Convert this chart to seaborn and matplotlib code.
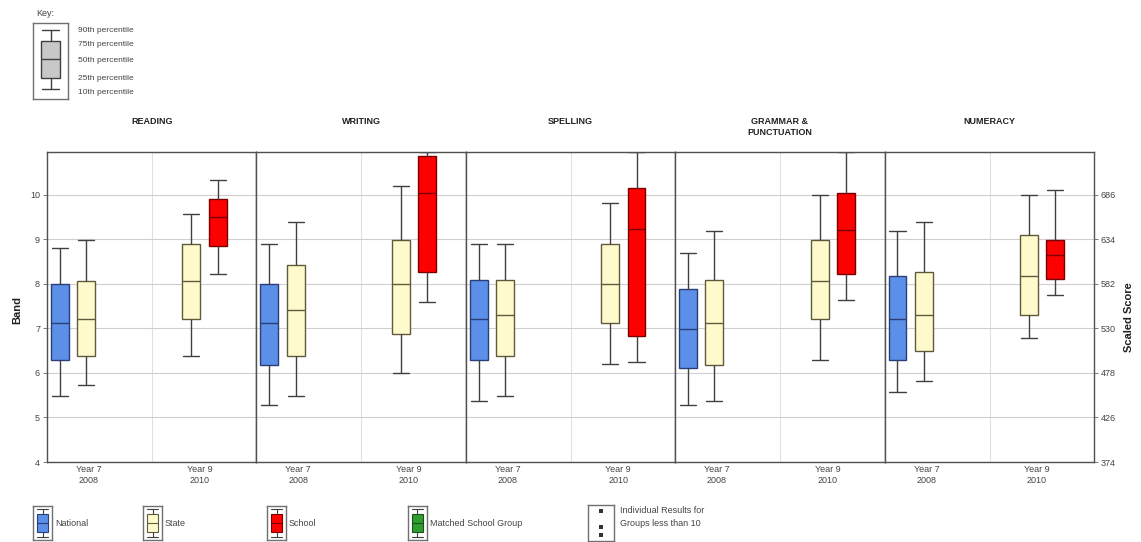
import matplotlib
matplotlib.use("Agg")
import matplotlib.pyplot as plt
import seaborn as sns
import pandas as pd

# band values per box: 10th, 25th, 50th, 75th, 90th percentile
subjects = ["READING", "WRITING", "SPELLING", "GRAMMAR &\nPUNCTUATION", "NUMERACY"]
y7_national = [
    [5.48, 6.29, 7.11, 8.00, 8.80],
    [5.28, 6.18, 7.13, 7.99, 8.89],
    [5.38, 6.29, 7.20, 8.08, 8.89],
    [5.28, 6.10, 6.98, 7.89, 8.70],
    [5.57, 6.29, 7.21, 8.18, 9.18],
]
y7_state = [
    [5.72, 6.39, 7.20, 8.07, 8.99],
    [5.48, 6.38, 7.41, 8.42, 9.38],
    [5.48, 6.39, 7.31, 8.08, 8.89],
    [5.38, 6.18, 7.13, 8.08, 9.18],
    [5.82, 6.49, 7.31, 8.27, 9.38],
]
y9_state = [
    [6.39, 7.20, 8.07, 8.89, 9.57],
    [6.00, 6.87, 7.99, 8.99, 10.19],
    [6.19, 7.11, 7.99, 8.89, 9.81],
    [6.30, 7.20, 8.07, 8.99, 10.00],
    [6.79, 7.30, 8.18, 9.09, 9.99],
]
y9_school = [
    [8.22, 8.85, 9.51, 9.91, 10.34],
    [7.59, 8.26, 10.05, 10.86, 10.96],
    [6.24, 6.83, 9.24, 10.15, 10.96],
    [7.64, 8.22, 9.20, 10.05, 10.96],
    [7.74, 8.11, 8.64, 8.99, 10.10],
]
slots = ["y7_nat", "y7_state", "y7_school", "gap", "y9_nat", "y9_state", "y9_school"]
groups = ["National", "State", "School"]
year_labels = ["Year 7\n2008", "Year 9\n2010"]
band_ticks = [4, 5, 6, 7, 8, 9, 10]
scaled_ticks = [374, 426, 478, 530, 582, 634, 686]
key_percentiles = [10, 25, 50, 75, 90]
key_labels = ["90th percentile", "75th percentile", "50th percentile",
              "25th percentile", "10th percentile"]
legend_names = ["National", "State", "School", "Matched School Group"]
individual_demo = [0.82, 0.40, 0.18]

fill = {"National": "#5B8FE8", "State": "#FFFACC", "School": "#FF0000",
        "Matched School Group": "#2E9E2E", "key": "#C8C8C8"}
edge = {"National": "#2C3E78", "State": "#5E5A3A", "School": "#7A0000",
        "Matched School Group": "#1F4F1F", "key": "#404040"}

rows = []
for i, subj in enumerate(subjects):
    for slot, grp, vals in [("y7_nat", "National", y7_national[i]),
                            ("y7_state", "State", y7_state[i]),
                            ("y9_state", "State", y9_state[i]),
                            ("y9_school", "School", y9_school[i])]:
        for v in vals:
            rows.append({"subject": subj, "slot": slot, "group": grp, "band": v})
df = pd.DataFrame(rows)

sns.set_style("white")
plt.rcParams["font.family"] = ["Liberation Sans", "DejaVu Sans"]

W, H = 1141, 542
fig = plt.figure(figsize=(W / 100, H / 100), dpi=100)
axes = fig.subplots(1, 5, sharey=True)
fig.subplots_adjust(left=47 / W, right=1094 / W, bottom=1 - 462 / H, top=1 - 152 / H, wspace=0)

GRAY = "#404040"
BOXW = 0.68


def widen_caps(ax, width):
    for ln in ax.lines:
        x = ln.get_xdata()
        y = ln.get_ydata()
        if len(x) == 2 and y[0] == y[1] and abs(x[1] - x[0]) < width * 0.6:
            c = (x[0] + x[1]) / 2
            ln.set_xdata([c - width * 0.45, c + width * 0.45])


for i, (ax, subj) in enumerate(zip(axes, subjects)):
    sub = df[df["subject"] == subj]
    for grp in groups:
        part = sub[sub["group"] == grp]
        sns.boxplot(data=part, x="slot", y="band", order=slots, color=fill[grp],
                    saturation=1, width=BOXW, whis=(0, 100), linewidth=1.0,
                    linecolor=edge[grp], ax=ax,
                    whiskerprops={"color": GRAY}, capprops={"color": GRAY},
                    medianprops={"color": edge[grp]})
    widen_caps(ax, BOXW)
    ax.set_xlim(-0.49, 7.47)
    ax.set_ylim(4, 10.96)
    ax.set_yticks(band_ticks)
    ax.yaxis.grid(True, color="#cfcfcf", lw=0.8)
    ax.set_axisbelow(True)
    ax.axvline(3.5, color="#e0e0e0", lw=0.8, zorder=0)
    ax.set_xticks([1.1, 5.3])
    ax.set_xticklabels(year_labels, fontsize=6.5, color="#444444", linespacing=1.3)
    ax.tick_params(axis="x", length=0, pad=2)
    ax.set_xlabel("")
    ax.set_ylabel("")
    for sp in ax.spines.values():
        sp.set_color("#505050")
        sp.set_linewidth(1.0)
    ax.text(0.5, 1.113, subj, transform=ax.transAxes, ha="center", va="top",
            fontsize=6.5, fontweight="bold", color="#222222", linespacing=1.25)

rax = axes[-1].twinx()
rax.set_ylim(374, 374 + 52 * 6.96)
rax.set_yticks(scaled_ticks)
rax.tick_params(axis="y", right=True, left=False, length=3, width=0.6, color="#666666",
                labelsize=6.5, labelcolor="#444444", pad=2)
for sp in rax.spines.values():
    sp.set_visible(False)
rax.grid(False)

# twinx turns left ticks back on, so set them after it
for i, ax in enumerate(axes):
    if i == 0:
        ax.tick_params(axis="y", left=True, right=False, length=3, width=0.6,
                       color="#666666", labelsize=6.5, labelcolor="#444444", pad=2)
    else:
        ax.tick_params(axis="y", left=False, right=False, labelleft=False)

fig.text(17 / W, 1 - 310 / H, "Band", rotation=90, ha="center", va="center",
         fontsize=8, fontweight="bold", color="#222222")
fig.text(1129 / W, 1 - 317 / H, "Scaled Score", rotation=90, ha="center", va="center",
         fontsize=8, fontweight="bold", color="#222222")

# key (top left)
fig.text(36 / W, 1 - 14 / H, "Key:", fontsize=6.5, color="#444444", va="center")
kax = fig.add_axes([33 / W, 1 - 99 / H, 35 / W, 76 / H])
sns.boxplot(y=key_percentiles, color=fill["key"], saturation=1, width=0.55,
            whis=(0, 100), linewidth=1.0, linecolor=GRAY, ax=kax)
widen_caps(kax, 0.55)
kax.set_ylim(-3.6, 99.5)
kax.set_xlim(-0.5, 0.5)
kax.set_xticks([])
kax.set_yticks([])
kax.set_ylabel("")
for sp in kax.spines.values():
    sp.set_color("#707070")
    sp.set_linewidth(1.0)
for lab, ypx in zip(key_labels, [31, 45, 61, 78, 93]):
    fig.text(78 / W, 1 - ypx / H, lab, fontsize=6, color="#444444", va="center")

# bottom legend
icon_x = [33, 143, 267, 408]
for name, x0 in zip(legend_names, icon_x):
    lax = fig.add_axes([x0 / W, 1 - 540 / H, 19 / W, 34 / H])
    sns.boxplot(y=key_percentiles, color=fill[name], saturation=1, width=0.6,
                whis=(0, 100), linewidth=0.8, linecolor=edge[name], ax=lax,
                whiskerprops={"color": GRAY}, capprops={"color": GRAY})
    widen_caps(lax, 0.6)
    lax.set_ylim(2, 98)
    lax.set_xlim(-0.5, 0.5)
    lax.set_xticks([])
    lax.set_yticks([])
    lax.set_ylabel("")
    for sp in lax.spines.values():
        sp.set_color("#707070")
        sp.set_linewidth(1.0)
    fig.text((x0 + 22) / W, 1 - 523 / H, name, fontsize=6.5, color="#444444", va="center")

iax = fig.add_axes([588 / W, 1 - 541 / H, 26 / W, 36 / H])
sns.scatterplot(x=[0] * len(individual_demo), y=individual_demo, color="#333333",
                s=5, marker="s", linewidth=0, ax=iax)
iax.set_xlim(-1, 1)
iax.set_ylim(0, 1)
iax.set_xticks([])
iax.set_yticks([])
for sp in iax.spines.values():
    sp.set_color("#707070")
    sp.set_linewidth(1.0)
fig.text(620 / W, 1 - 517 / H, "Individual Results for\nGroups less than 10",
         fontsize=6.5, color="#444444", va="center", linespacing=1.5)

fig.savefig("out.png", dpi=100)
plt.close(fig)
